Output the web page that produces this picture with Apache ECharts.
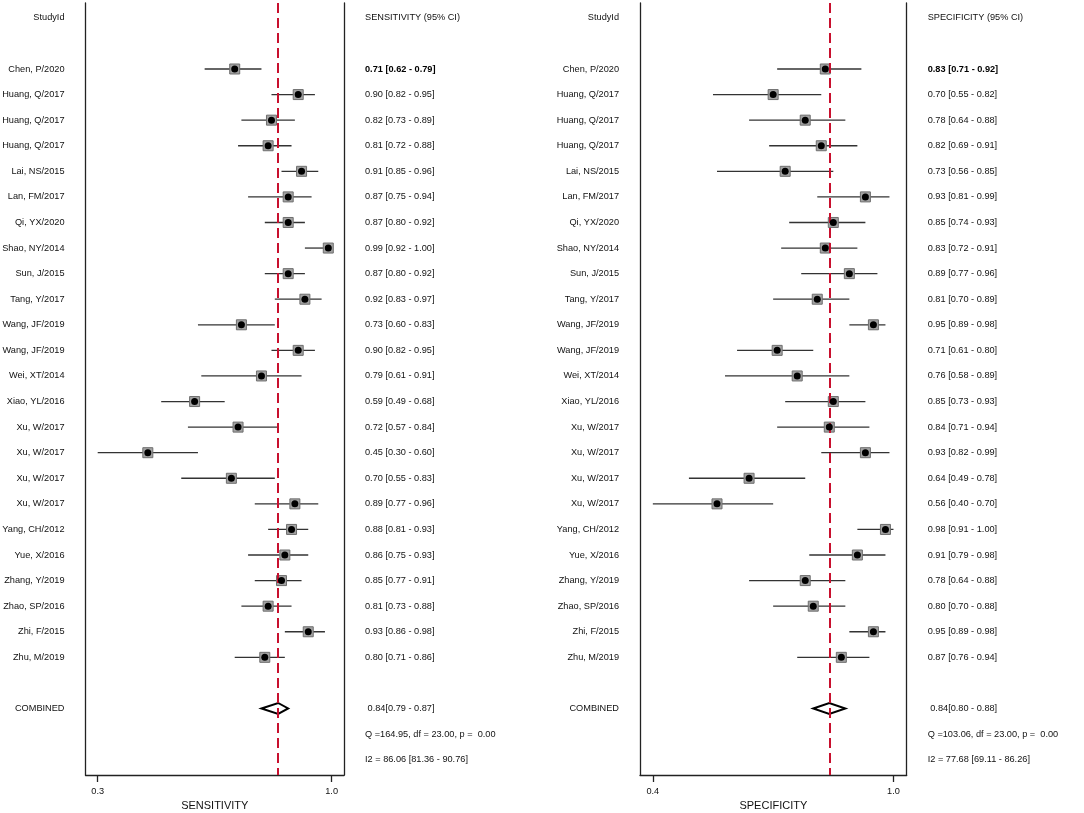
<!DOCTYPE html>
<html>
<head>
<meta charset="utf-8">
<title>Forest plot</title>
<script src="https://cdn.jsdelivr.net/npm/echarts@6/dist/echarts.min.js"></script>
<style>
  html, body { margin: 0; padding: 0; background: #fff; }
  #main { width: 1084px; height: 813px; }
</style>
</head>
<body>
<div id="main"></div>
<script>
// studies (row order, top to bottom)
var studies = ['Chen, P/2020','Huang, Q/2017','Huang, Q/2017','Huang, Q/2017','Lai, NS/2015','Lan, FM/2017',
  'Qi, YX/2020','Shao, NY/2014','Sun, J/2015','Tang, Y/2017','Wang, JF/2019','Wang, JF/2019','Wei, XT/2014',
  'Xiao, YL/2016','Xu, W/2017','Xu, W/2017','Xu, W/2017','Xu, W/2017','Yang, CH/2012','Yue, X/2016',
  'Zhang, Y/2019','Zhao, SP/2016','Zhi, F/2015','Zhu, M/2019'];

// sensitivity
var sensVal = [0.71,0.90,0.82,0.81,0.91,0.87,0.87,0.99,0.87,0.92,0.73,0.90,0.79,0.59,0.72,0.45,0.70,0.89,0.88,0.86,0.85,0.81,0.93,0.80];
var sensLo  = [0.62,0.82,0.73,0.72,0.85,0.75,0.80,0.92,0.80,0.83,0.60,0.82,0.61,0.49,0.57,0.30,0.55,0.77,0.81,0.75,0.77,0.73,0.86,0.71];
var sensHi  = [0.79,0.95,0.89,0.88,0.96,0.94,0.92,1.00,0.92,0.97,0.83,0.95,0.91,0.68,0.84,0.60,0.83,0.96,0.93,0.93,0.91,0.88,0.98,0.86];
var sensPooled = [0.84, 0.79, 0.87];
var sensQ = 'Q =164.95, df = 23.00, p =  0.00';
var sensI2 = 'I2 = 86.06 [81.36 - 90.76]';

// specificity
var specVal = [0.83,0.70,0.78,0.82,0.73,0.93,0.85,0.83,0.89,0.81,0.95,0.71,0.76,0.85,0.84,0.93,0.64,0.56,0.98,0.91,0.78,0.80,0.95,0.87];
var specLo  = [0.71,0.55,0.64,0.69,0.56,0.81,0.74,0.72,0.77,0.70,0.89,0.61,0.58,0.73,0.71,0.82,0.49,0.40,0.91,0.79,0.64,0.70,0.89,0.76];
var specHi  = [0.92,0.82,0.88,0.91,0.85,0.99,0.93,0.91,0.96,0.89,0.98,0.80,0.89,0.93,0.94,0.99,0.78,0.70,1.00,0.98,0.88,0.88,0.98,0.94];
var specPooled = [0.84, 0.80, 0.88];
var specQ = 'Q =103.06, df = 23.00, p =  0.00';
var specI2 = 'I2 = 77.68 [69.11 - 86.26]';

// axis ticks
var sensTicks = [0.3, 1.0];
var specTicks = [0.4, 1.0];

// row positions
var HEADER = -2, COMBINED = 25, QROW = 26, I2ROW = 27;
var studyRows = studies.map(function (s, i) { return i; });

var FONT = "'Liberation Sans', Arial, sans-serif";
var FS = 9.2;

function fmt(v) { return v.toFixed(2); }

function leftLabels(v) {
  var r = Math.round(v);
  if (r === HEADER) return 'StudyId';
  if (r === COMBINED) return 'COMBINED';
  return studies[r] || '';
}

function rightLabels(val, lo, hi, pooled, head, q, i2) {
  return function (v) {
    var r = Math.round(v);
    if (r === HEADER) return head;
    if (r === COMBINED) return ' ' + fmt(pooled[0]) + '[' + fmt(pooled[1]) + ' - ' + fmt(pooled[2]) + ']';
    if (r === QROW) return q;
    if (r === I2ROW) return i2;
    if (r < 0 || r >= studies.length) return '';
    var t = fmt(val[r]) + ' [' + fmt(lo[r]) + ' - ' + fmt(hi[r]) + ']';
    return r === 0 ? '{b|' + t + '}' : t;
  };
}

function yAxes(gridIndex, val, lo, hi, pooled, head, q, i2) {
  var base = {
    gridIndex: gridIndex, type: 'value', inverse: true, min: -2.58, max: 27.6,
    splitLine: { show: false }, axisTick: { show: false },
    axisLine: { show: true, lineStyle: { color: '#222', width: 1.3 } }
  };
  var left = Object.assign({}, base, {
    position: 'left',
    axisLabel: {
      customValues: [HEADER].concat(studyRows, [COMBINED]),
      formatter: leftLabels, margin: 21, color: '#111', fontSize: FS, fontFamily: FONT
    }
  });
  var right = Object.assign({}, base, {
    position: 'right',
    axisLabel: {
      customValues: [HEADER].concat(studyRows, [COMBINED, QROW, I2ROW]),
      formatter: rightLabels(val, lo, hi, pooled, head, q, i2),
      margin: 21, color: '#111', fontSize: FS, fontFamily: FONT, align: 'left',
      rich: { b: { fontWeight: 'bold', fontSize: FS, fontFamily: FONT, color: '#000' } }
    }
  });
  return [left, right];
}

function xAxis(gridIndex, min, max, ticks, name) {
  return {
    gridIndex: gridIndex, type: 'value', min: min, max: max,
    splitLine: { show: false },
    axisLine: { show: true, onZero: false, lineStyle: { color: '#222', width: 1.3 } },
    axisTick: { show: true, customValues: ticks, length: 7, lineStyle: { color: '#222', width: 1.3 } },
    axisLabel: { customValues: ticks, formatter: function (v) { return v.toFixed(1); },
      color: '#111', fontSize: FS, fontFamily: FONT, margin: 12 },
    name: name, nameLocation: 'middle', nameGap: 25,
    nameTextStyle: { color: '#111', fontSize: 11, fontFamily: FONT }
  };
}

function panelSeries(k, val, lo, hi, pooled) {
  var ciData = val.map(function (v, i) { return [i, lo[i], hi[i]]; });
  var ptData = val.map(function (v, i) { return [v, i]; });
  return [
    {
      type: 'custom', xAxisIndex: k, yAxisIndex: 2 * k, z: 2, silent: true,
      data: ciData,
      encode: { x: [1, 2], y: 0 },
      renderItem: function (params, api) {
        var a = api.coord([api.value(1), api.value(0)]);
        var b = api.coord([api.value(2), api.value(0)]);
        return { type: 'line', shape: { x1: a[0], y1: a[1], x2: b[0], y2: b[1] },
          style: { stroke: '#333', lineWidth: 1.3 } };
      }
    },
    {
      type: 'scatter', xAxisIndex: k, yAxisIndex: 2 * k, z: 3, silent: true, data: [],
      markLine: {
        silent: true, symbol: 'none', animation: false,
        label: { show: false },
        lineStyle: { color: '#c8102e', type: [10, 5], width: 2 },
        data: [{ xAxis: pooled[0] }]
      }
    },
    {
      type: 'scatter', xAxisIndex: k, yAxisIndex: 2 * k, z: 4, silent: true,
      symbol: 'rect', symbolSize: 10, data: ptData,
      itemStyle: { color: '#a3a3a3', borderColor: '#6e6e6e', borderWidth: 1, opacity: 1 }
    },
    {
      type: 'scatter', xAxisIndex: k, yAxisIndex: 2 * k, z: 5, silent: true,
      symbol: 'circle', symbolSize: 7, data: ptData,
      itemStyle: { color: '#000', opacity: 1 }
    },
    {
      type: 'custom', xAxisIndex: k, yAxisIndex: 2 * k, z: 4, silent: true,
      data: [[COMBINED, pooled[0], pooled[1], pooled[2]]],
      encode: { x: [1, 2, 3], y: 0 },
      renderItem: function (params, api) {
        var c = api.coord([api.value(1), api.value(0)]);
        var l = api.coord([api.value(2), api.value(0)]);
        var r = api.coord([api.value(3), api.value(0)]);
        var h = 5.5;
        return { type: 'polygon',
          shape: { points: [[l[0], c[1]], [c[0], c[1] - h], [r[0], c[1]], [c[0], c[1] + h]] },
          style: { fill: 'none', stroke: '#000', lineWidth: 2 } };
      }
    }
  ];
}

var chart = echarts.init(document.getElementById('main'), null, { renderer: 'canvas' });

var option = {
  backgroundColor: '#fff',
  animation: false,
  textStyle: { fontFamily: FONT },
  grid: [
    { left: 85.5, top: 3, width: 258.5, height: 772, containLabel: false, outerBoundsMode: 'none' },
    { left: 640, top: 3, width: 266.7, height: 772, containLabel: false, outerBoundsMode: 'none' }
  ],
  xAxis: [
    xAxis(0, 0.2635, 1.037, sensTicks, 'SENSITIVITY'),
    xAxis(1, 0.368, 1.033, specTicks, 'SPECIFICITY')
  ],
  yAxis: yAxes(0, sensVal, sensLo, sensHi, sensPooled, 'SENSITIVITY (95% CI)', sensQ, sensI2)
    .concat(yAxes(1, specVal, specLo, specHi, specPooled, 'SPECIFICITY (95% CI)', specQ, specI2)),
  series: panelSeries(0, sensVal, sensLo, sensHi, sensPooled)
    .concat(panelSeries(1, specVal, specLo, specHi, specPooled))
};

chart.setOption(option);
</script>
</body>
</html>
